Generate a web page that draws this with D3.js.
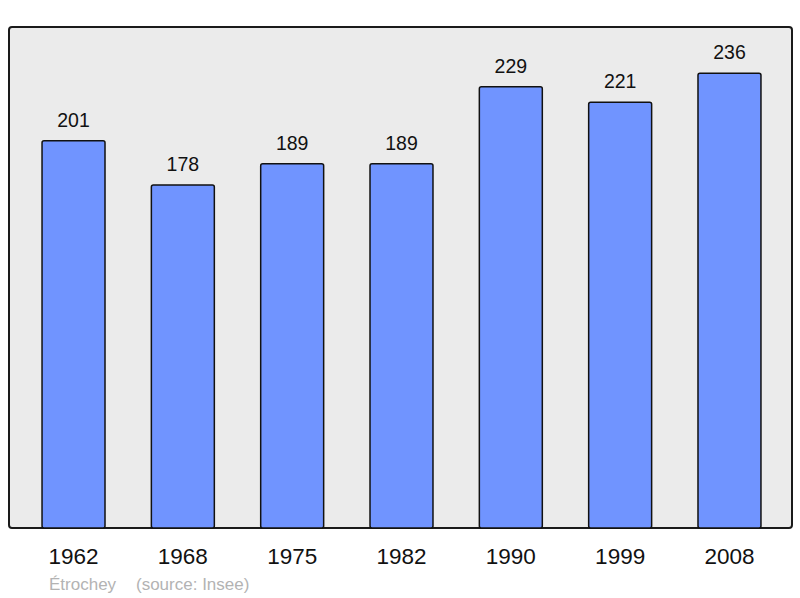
<!DOCTYPE html>
<html><head><meta charset="utf-8">
<title>Population</title>
<script src="https://cdn.jsdelivr.net/npm/d3@7"></script>
<style>
body { margin: 0; background: #fff; }
text { font-family: "Liberation Sans", Arial, sans-serif; }
</style>
</head>
<body>
<script>
// chart data
var years = ["1962", "1968", "1975", "1982", "1990", "1999", "2008"];
var population = [201, 178, 189, 189, 229, 221, 236];
var placeName = "Étrochey";
var sourceText = "(source: Insee)";

var width = 800, height = 598;
var plot = {left: 9, top: 27, right: 792, bottom: 528};

var svg = d3.select("body").append("svg")
	.attr("width", width).attr("height", height);

var x = d3.scaleBand()
	.domain(years)
	.range([plot.left + 1, plot.right + 1])
	.paddingInner(0.424)
	.paddingOuter(0.293);

var y = d3.scaleLinear()
	.domain([0, 260])
	.range([plot.bottom, plot.top]);

// background frame
svg.append("rect")
	.attr("x", plot.left).attr("y", plot.top)
	.attr("width", plot.right - plot.left)
	.attr("height", plot.bottom - plot.top)
	.attr("rx", 3)
	.attr("fill", "#ebebeb")
	.attr("stroke", "#1a1a1a")
	.attr("stroke-width", 2);

var data = years.map(function(d, i) { return {year: d, value: population[i]}; });

svg.append("g").selectAll("rect").data(data).enter().append("rect")
	.attr("x", function(d) { return x(d.year); })
	.attr("y", function(d) { return y(d.value); })
	.attr("width", x.bandwidth())
	.attr("height", function(d) { return y(0) - y(d.value); })
	.attr("rx", 2)
	.attr("fill", "#7094ff")
	.attr("stroke", "#111")
	.attr("stroke-width", 1.5);

// value labels
svg.append("g").selectAll("text").data(data).enter().append("text")
	.attr("x", function(d) { return x(d.year) + x.bandwidth() / 2; })
	.attr("y", function(d) { return y(d.value) - 14; })
	.attr("text-anchor", "middle")
	.attr("font-size", "19.5px")
	.attr("fill", "#111")
	.text(function(d) { return d.value; });

// year axis
var axis = svg.append("g")
	.attr("transform", "translate(0," + plot.bottom + ")")
	.call(d3.axisBottom(x).tickSize(0).tickPadding(0));
axis.select(".domain").remove();
axis.selectAll("text")
	.attr("y", 36)
	.attr("dy", null)
	.attr("font-size", "22.5px")
	.attr("font-family", "Liberation Sans, Arial, sans-serif")
	.attr("fill", "#111");

// caption
svg.append("text")
	.attr("x", 49).attr("y", 590)
	.attr("font-size", "17px")
	.attr("fill", "#b3b3b3")
	.text(placeName);
svg.append("text")
	.attr("x", 136).attr("y", 590)
	.attr("font-size", "17px")
	.attr("fill", "#b3b3b3")
	.text(sourceText);
</script>
</body></html>
